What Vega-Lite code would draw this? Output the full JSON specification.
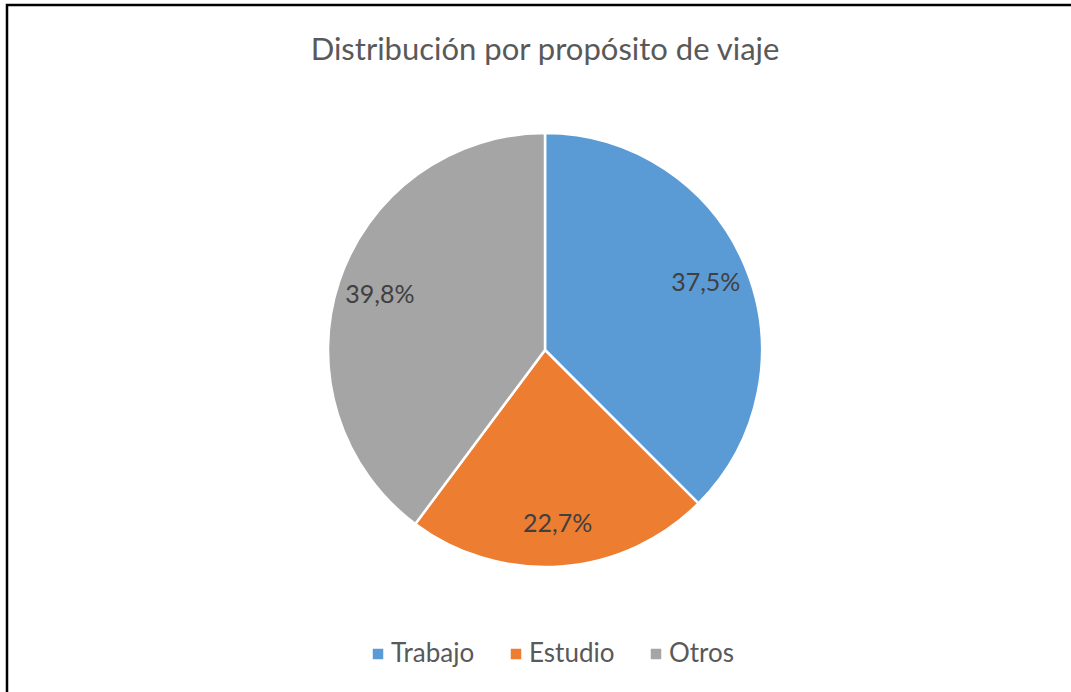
{
  "$schema": "https://vega.github.io/schema/vega-lite/v6.json",
  "autosize": {"type": "none"},
  "padding": {"left": 7, "top": 5, "right": 0, "bottom": 0},
  "width": 1076,
  "height": 690,
  "background": "white",
  "view": {"stroke": "black", "strokeWidth": 2.5, "fill": "white"},
  "config": {
    "font": "Lato"
  },
  "title": {
    "text": "Distribución por propósito de viaje",
    "orient": "top",
    "anchor": "middle",
    "offset": -62,
    "fontSize": 31,
    "fontWeight": "normal",
    "color": "#595959",
    "font": "Lato"
  },
  "data": {
    "values": [
      {"proposito": "Trabajo", "valor": 37.5, "etiqueta": "37,5%", "orden": 1},
      {"proposito": "Estudio", "valor": 22.7, "etiqueta": "22,7%", "orden": 2},
      {"proposito": "Otros", "valor": 39.8, "etiqueta": "39,8%", "orden": 3}
    ]
  },
  "encoding": {
    "theta": {"field": "valor", "type": "quantitative", "stack": true},
    "order": {"field": "orden", "type": "quantitative"},
    "color": {
      "field": "proposito",
      "type": "nominal",
      "scale": {"domain": ["Trabajo", "Estudio", "Otros"], "range": ["#5B9BD5", "#ED7D31", "#A5A5A5"]},
      "legend": {
        "title": null,
        "orient": "none",
        "direction": "horizontal",
        "legendX": 358,
        "legendY": 636,
        "symbolType": "square",
        "symbolSize": 110,
        "symbolStrokeWidth": 0,
        "labelFontSize": 26,
        "labelColor": "#595959",
        "labelFont": "Lato",
        "columnPadding": 28,
        "labelOffset": 0
      }
    }
  },
  "layer": [
    {
      "mark": {"type": "arc", "outerRadius": 217, "stroke": "white", "strokeWidth": 2.5}
    },
    {
      "mark": {"type": "text", "radius": 174, "fontSize": 25, "font": "Lato"},
      "encoding": {
        "text": {"field": "etiqueta"},
        "color": {"value": "#404040"}
      }
    }
  ]
}
